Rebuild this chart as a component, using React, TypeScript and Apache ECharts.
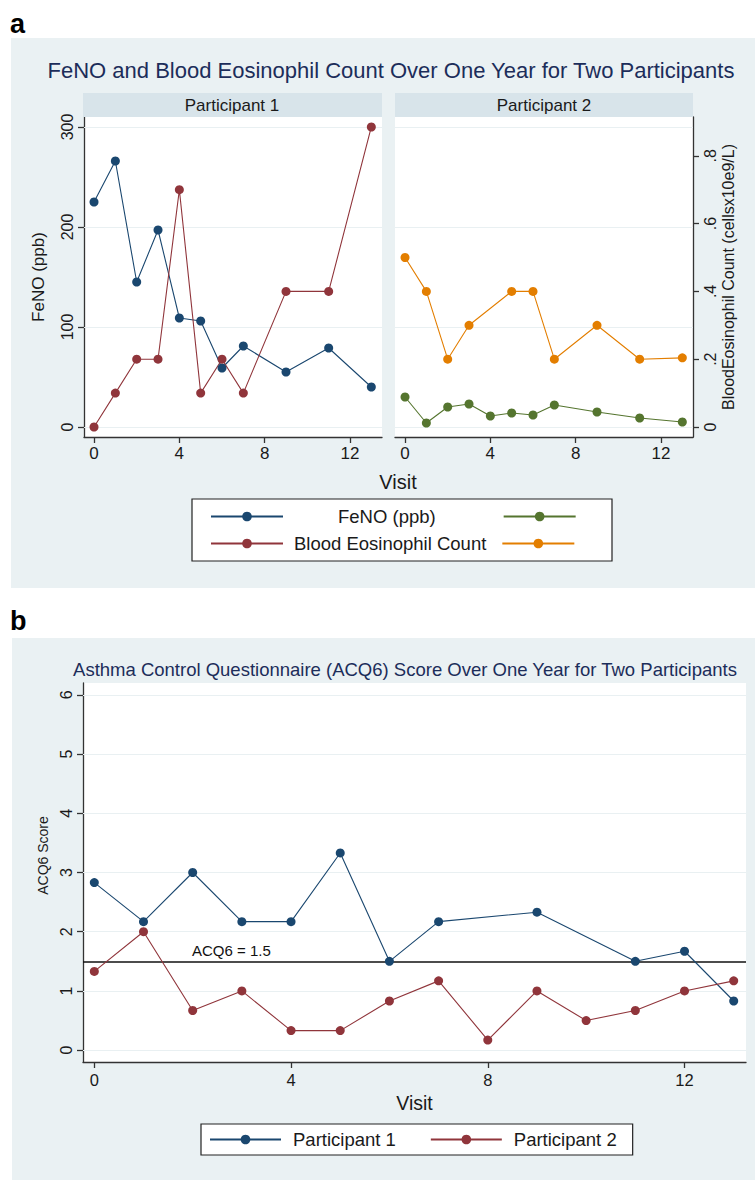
import React, { useEffect, useRef } from "react";
import * as echarts from "echarts";

// ---------- data ----------
const visitsP1 = [0, 1, 2, 3, 4, 5, 6, 7, 9, 11, 13];
const fenoP1 = [225, 266, 145, 197, 109, 106, 59, 81, 55, 79, 40];
const eosP1 = [0, 0.1, 0.2, 0.2, 0.7, 0.1, 0.2, 0.1, 0.4, 0.4, 0.885];

const visitsP2Feno = [0, 1, 2, 3, 4, 5, 6, 7, 9, 11, 13];
const fenoP2 = [30, 4, 20, 23, 11, 14, 12, 22, 15, 9, 5];
const visitsP2Eos = [0, 1, 2, 3, 5, 6, 7, 9, 11, 13];
const eosP2 = [0.5, 0.4, 0.2, 0.3, 0.4, 0.4, 0.2, 0.3, 0.2, 0.204];

const acqVisitsP1 = [0, 1, 2, 3, 4, 5, 6, 7, 9, 11, 12, 13];
const acqP1 = [2.83, 2.17, 3.0, 2.17, 2.17, 3.33, 1.5, 2.17, 2.33, 1.5, 1.67, 0.83];
const acqVisitsP2 = [0, 1, 2, 3, 4, 5, 6, 7, 8, 9, 10, 11, 12, 13];
const acqP2 = [1.33, 2.0, 0.67, 1.0, 0.33, 0.33, 0.83, 1.17, 0.17, 1.0, 0.5, 0.67, 1.0, 1.17];

const visitTicks = [0, 4, 8, 12];
const fenoTicks = [0, 100, 200, 300];
const eosTicks = [0, 0.2, 0.4, 0.6, 0.8];
const acqTicks = [0, 1, 2, 3, 4, 5, 6];
const acqThreshold = 1.5;

const FENO_P1 = "FeNO (ppb)";
const EOS_P1 = "Blood Eosinophil Count";
const FENO_P2 = "FeNO (ppb), Participant 2";
const EOS_P2 = "Blood Eosinophil Count, Participant 2";

// ---------- styling ----------
const FONT = '"Liberation Sans", Arial, Helvetica, sans-serif';
const AX = "#333";
const TXT = "#1a1a1a";
const NAVY = "#1a476f";
const MAROON = "#90353b";
const GREEN = "#55752f";
const ORANGE = "#e37e00";
const BG = "#eaf1f3";
const STRIP = "#d8e4ea";
const GRIDC = "#e9f0f2";
const TITLEC = "#1c2d5a";

const FENO_MIN = -10;
const FENO_MAX = 310;
const EOS_K = 339; // ppb per 10e9/L so the two scales share the panel
const EOS_MIN = FENO_MIN / EOS_K;
const EOS_MAX = FENO_MAX / EOS_K;

const pairs = (xs: number[], ys: number[]) => xs.map((x, i) => [x, ys[i]]);

function xAxisCfg(gridIndex: number, min: number, max: number, extra: any = {}) {
  return {
    type: "value",
    gridIndex,
    min,
    max,
    axisLine: { show: true, onZero: false, lineStyle: { color: AX, width: 1.3 } },
    axisTick: { show: true, length: 6, customValues: visitTicks, lineStyle: { color: AX, width: 1.3 } },
    axisLabel: { customValues: visitTicks, fontSize: 17, color: TXT, margin: 8, fontFamily: FONT },
    splitLine: { show: false },
    ...extra,
  };
}

function lineSeries(name: string, xi: number, yi: number, xs: number[], ys: number[], color: string) {
  return {
    name,
    type: "line",
    xAxisIndex: xi,
    yAxisIndex: yi,
    data: pairs(xs, ys),
    color,
    symbol: "circle",
    symbolSize: 9,
    showSymbol: true,
    lineStyle: { color, width: 1.1 },
    itemStyle: { color },
    z: 3,
    emphasis: { disabled: true },
    silent: true,
  };
}

function gridSeries(xi: number, yi: number, values: number[]) {
  return {
    name: "grid-" + xi,
    type: "line",
    xAxisIndex: xi,
    yAxisIndex: yi,
    data: [],
    z: 1,
    silent: true,
    markLine: {
      z: 1,
      silent: true,
      symbol: ["none", "none"],
      label: { show: false },
      lineStyle: { color: GRIDC, width: 1, type: "solid" },
      emphasis: { disabled: true },
      data: values.map((v) => ({ yAxis: v })),
    },
  };
}

export default function App() {
  const ref = useRef<HTMLDivElement>(null);

  useEffect(() => {
    if (!ref.current) return;
    const chart = echarts.init(ref.current, null, { renderer: "svg" });

    const option: any = {
      animation: false,
      backgroundColor: "#ffffff",
      textStyle: { fontFamily: FONT },
      title: [
        {
          text: "FeNO and Blood Eosinophil Count Over One Year for Two Participants",
          left: 391,
          top: 59,
          padding: 0,
          textAlign: "center",
          textStyle: { fontSize: 22, fontWeight: "normal", color: TITLEC, fontFamily: FONT },
        },
        {
          text: "Asthma Control Questionnaire (ACQ6) Score Over One Year for Two Participants",
          left: 405,
          top: 660,
          padding: 0,
          textAlign: "center",
          textStyle: { fontSize: 18.5, fontWeight: "normal", color: TITLEC, fontFamily: FONT },
        },
        {
          text: "a",
          left: 10,
          top: 10,
          padding: 0,
          textStyle: { fontSize: 27, fontWeight: "bold", color: "#000", fontFamily: FONT },
        },
        {
          text: "b",
          left: 10,
          top: 607,
          padding: 0,
          textStyle: { fontSize: 27, fontWeight: "bold", color: "#000", fontFamily: FONT },
        },
      ],
      graphic: [
        { type: "rect", z: -10, shape: { x: 11, y: 38, width: 744, height: 550 }, style: { fill: BG } },
        { type: "rect", z: -10, shape: { x: 12, y: 638, width: 743, height: 542 }, style: { fill: BG } },
        { type: "rect", z: 1, shape: { x: 83, y: 93, width: 299, height: 24 }, style: { fill: STRIP } },
        { type: "rect", z: 1, shape: { x: 395, y: 93, width: 298, height: 24 }, style: { fill: STRIP } },
        {
          type: "text",
          z: 2,
          x: 232,
          y: 105,
          style: { text: "Participant 1", fontSize: 17, fill: TXT, align: "center", verticalAlign: "middle", fontFamily: FONT },
        },
        {
          type: "text",
          z: 2,
          x: 544,
          y: 105,
          style: { text: "Participant 2", fontSize: 17, fill: TXT, align: "center", verticalAlign: "middle", fontFamily: FONT },
        },
        {
          type: "text",
          z: 2,
          x: 398,
          y: 482,
          style: { text: "Visit", fontSize: 20, fill: TXT, align: "center", verticalAlign: "middle", fontFamily: FONT },
        },
        {
          type: "rect",
          z: 1,
          shape: { x: 192, y: 499, width: 420, height: 62 },
          style: { fill: "#ffffff", stroke: "#222", lineWidth: 1.2 },
        },
      ],
      grid: [
        { left: 84, top: 117, width: 298, height: 320, show: true, backgroundColor: "#fff", borderWidth: 0 },
        { left: 395, top: 117, width: 298, height: 320, show: true, backgroundColor: "#fff", borderWidth: 0 },
        { left: 83, top: 683, width: 663, height: 379, show: true, backgroundColor: "#fff", borderWidth: 0 },
      ],
      xAxis: [
        xAxisCfg(0, -0.47, 13.5),
        xAxisCfg(1, -0.47, 13.5),
        xAxisCfg(2, -0.23, 13.25, {
          axisLabel: { customValues: visitTicks, fontSize: 16.5, color: TXT, margin: 9, fontFamily: FONT },
          name: "Visit",
          nameLocation: "middle",
          nameGap: 31,
          nameTextStyle: { fontSize: 19.5, color: TXT, fontFamily: FONT },
        }),
      ],
      yAxis: [
        {
          type: "value",
          gridIndex: 0,
          position: "left",
          min: FENO_MIN,
          max: FENO_MAX,
          axisLine: { show: true, onZero: false, lineStyle: { color: AX, width: 1.3 } },
          axisTick: { show: true, length: 6, customValues: fenoTicks, lineStyle: { color: AX, width: 1.3 } },
          axisLabel: { customValues: fenoTicks, rotate: 90, fontSize: 16, color: TXT, margin: 9, fontFamily: FONT },
          splitLine: { show: false },
          name: "FeNO (ppb)",
          nameLocation: "middle",
          nameRotate: 90,
          nameGap: 37,
          nameTextStyle: { fontSize: 17, color: TXT, fontFamily: FONT },
        },
        { type: "value", gridIndex: 0, show: false, min: EOS_MIN, max: EOS_MAX, splitLine: { show: false } },
        { type: "value", gridIndex: 1, show: false, min: FENO_MIN, max: FENO_MAX, splitLine: { show: false } },
        {
          type: "value",
          gridIndex: 1,
          position: "right",
          min: EOS_MIN,
          max: EOS_MAX,
          axisLine: { show: true, onZero: false, lineStyle: { color: AX, width: 1.3 } },
          axisTick: { show: true, length: 6, customValues: eosTicks, lineStyle: { color: AX, width: 1.3 } },
          axisLabel: {
            customValues: eosTicks,
            rotate: 90,
            fontSize: 16,
            color: TXT,
            margin: 9,
            fontFamily: FONT,
            formatter: (v: number) => (Math.abs(v) < 1e-9 ? "0" : v.toFixed(1).replace(/^0/, "")),
          },
          splitLine: { show: false },
          name: "BloodEosinophil Count (cellsx10e9/L)",
          nameLocation: "middle",
          nameRotate: 90,
          nameGap: 27,
          nameTextStyle: { fontSize: 16, color: TXT, fontFamily: FONT },
        },
        {
          type: "value",
          gridIndex: 2,
          position: "left",
          min: -0.2,
          max: 6.2,
          axisLine: { show: true, onZero: false, lineStyle: { color: AX, width: 1.3 } },
          axisTick: { show: true, length: 6, customValues: acqTicks, lineStyle: { color: AX, width: 1.3 } },
          axisLabel: { customValues: acqTicks, rotate: 90, fontSize: 16, color: TXT, margin: 9, fontFamily: FONT },
          splitLine: { show: false },
          name: "ACQ6 Score",
          nameLocation: "middle",
          nameRotate: 90,
          nameGap: 31,
          nameTextStyle: { fontSize: 14, color: TXT, fontFamily: FONT, padding: [0, 0, 0, 34] },
        },
      ],
      legend: [
        {
          data: [{ name: FENO_P1, textStyle: { padding: [0, 0, 0, 50] } }, { name: FENO_P2 }],
          left: 210,
          top: 507,
          padding: 0,
          itemWidth: 72,
          itemHeight: 12,
          itemGap: 67,
          selectedMode: false,
          formatter: (n: string) => (n === FENO_P2 ? "" : n),
          textStyle: { fontSize: 18.5, color: TXT, fontFamily: FONT },
          z: 5,
        },
        {
          data: [{ name: EOS_P1, textStyle: { padding: [0, 0, 0, 6] } }, { name: EOS_P2 }],
          left: 210,
          top: 534,
          padding: 0,
          itemWidth: 72,
          itemHeight: 12,
          itemGap: 15,
          selectedMode: false,
          formatter: (n: string) => (n === EOS_P2 ? "" : n),
          textStyle: { fontSize: 18.5, color: TXT, fontFamily: FONT },
          z: 5,
        },
        {
          data: ["Participant 1", "Participant 2"],
          left: 201,
          top: 1124,
          padding: [6, 16, 6, 8],
          backgroundColor: "#fff",
          borderColor: "#222",
          borderWidth: 1.2,
          itemWidth: 71,
          itemHeight: 12,
          itemGap: 34,
          selectedMode: false,
          textStyle: { fontSize: 18.5, color: TXT, fontFamily: FONT, padding: [0, 0, 0, 7] },
          z: 5,
        },
      ],
      series: [
        gridSeries(0, 0, fenoTicks),
        gridSeries(1, 2, fenoTicks),
        gridSeries(2, 4, acqTicks),
        lineSeries(FENO_P1, 0, 0, visitsP1, fenoP1, NAVY),
        lineSeries(EOS_P1, 0, 1, visitsP1, eosP1, MAROON),
        lineSeries(FENO_P2, 1, 2, visitsP2Feno, fenoP2, GREEN),
        lineSeries(EOS_P2, 1, 3, visitsP2Eos, eosP2, ORANGE),
        {
          name: "ACQ6 threshold",
          type: "line",
          xAxisIndex: 2,
          yAxisIndex: 4,
          data: [],
          z: 2,
          silent: true,
          markLine: {
            z: 2,
            silent: true,
            symbol: ["none", "none"],
            lineStyle: { color: "#111", width: 1.5, type: "solid" },
            emphasis: { disabled: true },
            label: {
              show: true,
              position: "insideStartTop",
              distance: [109, 3],
              formatter: "ACQ6 = 1.5",
              fontSize: 15,
              color: "#111",
              fontFamily: FONT,
            },
            data: [{ yAxis: acqThreshold }],
          },
        },
        lineSeries("Participant 1", 2, 4, acqVisitsP1, acqP1, NAVY),
        lineSeries("Participant 2", 2, 4, acqVisitsP2, acqP2, MAROON),
      ],
    };

    chart.setOption(option);
    return () => chart.dispose();
  }, []);

  return <div ref={ref} style={{ position: "absolute", left: 0, top: 0, width: 755, height: 1180 }} />;
}
